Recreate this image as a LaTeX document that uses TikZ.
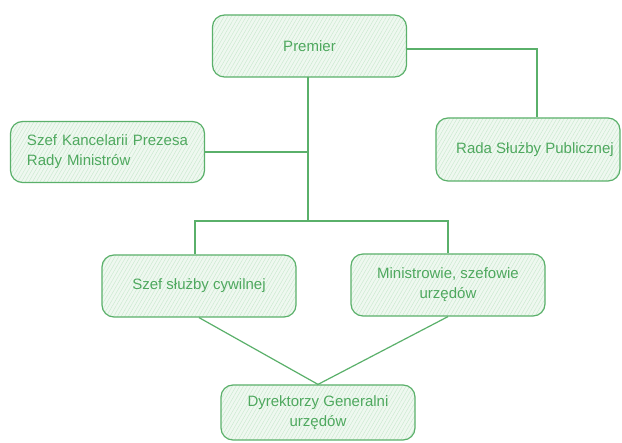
\documentclass[tikz,border=0pt]{standalone}
\usepackage{fontspec}
\setmainfont{Liberation Sans}
\usetikzlibrary{positioning,patterns.meta}
\definecolor{linegreen}{RGB}{90,176,106}
\definecolor{textgreen}{RGB}{78,168,94}
\definecolor{fillgreen}{RGB}{239,248,240}
\definecolor{hatchgreen}{RGB}{204,234,209}
\tikzset{
  box/.style={draw=linegreen, line width=1.2pt, rounded corners=12pt,
    preaction={fill=fillgreen},
    pattern={Lines[angle=60,distance=3.2pt,line width=0.5pt]}, pattern color=hatchgreen,
    text=textgreen, font=\fontsize{15}{20}\selectfont, align=center,
    minimum width=194pt, minimum height=62pt, inner sep=0pt},
  link/.style={draw=linegreen, line width=1.2pt}
}
\begin{document}
\begin{tikzpicture}[x=1pt,y=-1pt]
\useasboundingbox[fill=white] (0,0) rectangle (622,443);
% top level
\node[box] (premier) at (309.5,46) {Premier};
\node[box, minimum width=184pt, minimum height=63pt] (rada) at (528,149.5) {\hspace*{14pt}Rada Służby Publicznej};
\node[box, minimum height=61pt, text width=161pt, align=left] (kprm) at (107.5,152) {Szef Kancelarii Prezesa\\Rady Ministrów};
% second level
\node[box] (szs) at (199,286) {Szef służby cywilnej};
\node[box] (min) at (448,285) {Ministrowie, szefowie\\urzędów};
\node[box, minimum height=55pt] (dyr) at (318,412.5) {Dyrektorzy Generalni\\urzędów};
% connectors
\coordinate (split) at (308,221);
\draw[link] ([yshift=-3pt]premier.east) -| ([xshift=9pt]rada.north);
\draw[link] (premier.south -| split) -- (split);
\draw[link] (kprm.east) -- (kprm.east -| split);
\draw[link] (szs.north -| 195,0) |- (split) -| (min.north);
\draw[link] (szs.south) -- (dyr.north);
\draw[link] (min.south) -- (dyr.north);
\end{tikzpicture}
\end{document}
